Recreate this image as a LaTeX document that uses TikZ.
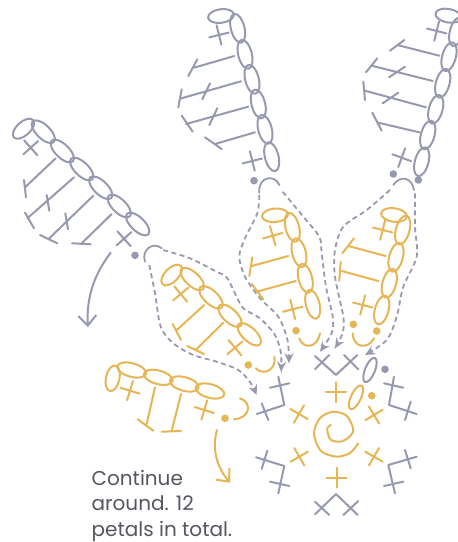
\documentclass[tikz,border=0pt]{standalone}
\usepackage{fontspec}
\setmainfont{Poppins}
\usepackage{xcolor}
\usetikzlibrary{arrows.meta}
\definecolor{inkgrey}{HTML}{9799AE}
\definecolor{inkgold}{HTML}{E6B555}
\definecolor{notegrey}{HTML}{55565F}
\tikzset{
  stitch/.style={line width=2pt, line cap=round, line join=round},
  runline/.style={line width=1.8pt, dash pattern=on 5pt off 3.5pt, -{Stealth[length=10pt,width=9pt]}},
  hookline/.style={line width=1.8pt, line cap=round},
  turnline/.style={stitch, -{Straight Barb[length=10pt,width=18pt]}},
  notetext/.style={text=notegrey, font=\fontsize{20}{25.5}\selectfont, align=left, inner sep=0pt}
}
% one chain link, the turning link, a plus stitch and a dot
\newcommand{\linkst}[3]{\draw[stitch, shift={(#1,#2)}, rotate=#3] (0,0) ellipse [x radius=14.8pt, y radius=6.8pt];}
\newcommand{\turnst}[3]{\draw[stitch, shift={(#1,#2)}, rotate=#3] (0,0) ellipse [x radius=13pt, y radius=6.8pt];}
\newcommand{\ovalst}[3]{\draw[stitch, shift={(#1,#2)}, rotate=#3] (0,0) ellipse [x radius=13pt, y radius=5pt];}
\newcommand{\plusst}[3]{\draw[stitch, shift={(#1,#2)}, rotate=#3] (-10,0) -- (10,0) (0,-10) -- (0,10);}
\newcommand{\dotst}[2]{\fill (#1,#2) circle [radius=3.8pt];}

\begin{document}
\begin{tikzpicture}[x=1pt, y=-1pt]
\useasboundingbox (0,0) rectangle (458,542);

% grey petal, left
\begin{scope}[color=inkgrey]
\turnst{23.5}{128.7}{42}
\linkst{43.3}{131.7}{-44}
\linkst{62.3}{151}{-44}
\linkst{81.7}{169}{-44}
\linkst{100.7}{187.7}{-44}
\linkst{119.3}{206}{-44}
\linkst{137.7}{224}{-44}
\plusst{30.7}{147.7}{42}
\draw[stitch] (55.7,158.3) -- (25,187.3) (24,180) -- (26,197.3);
\draw[stitch] (74,177.3) -- (27.3,218.3) (25,212.7) -- (34,228.3) (46.7,195) -- (49.3,210.7);
\draw[stitch] (93.3,195.7) -- (49.3,238.3) (40,235) -- (57.3,243.3) (65.3,213.3) -- (68,229.3);
\draw[stitch] (111.7,214) -- (81.7,243.3) (72,243.3) -- (90.7,244.3);
\plusst{124}{238.7}{42}
\dotst{135}{255.3}
\draw[turnline] (110.7,252.7) .. controls (96,272) and (86,295) .. (88,327);

% grey petal, middle
\turnst{221}{16}{8}
\linkst{237.7}{28.3}{-76}
\linkst{245}{54.3}{-76}
\linkst{252}{79.3}{-76}
\linkst{258.3}{104}{-76}
\linkst{265}{129.3}{-76}
\linkst{271.7}{156.7}{-76}
\plusst{219}{35}{14}
\draw[stitch] (234.3,56) -- (194,67.7) (188.3,76) -- (197.3,59.3);
\draw[stitch] (241,81.3) -- (180,98.7) (178.3,107.3) -- (181.7,89.3) (202.3,99.3) -- (210,83.3);
\draw[stitch] (248.3,106.7) -- (186,124) (181.7,115.7) -- (192.7,131.7) (209.3,125) -- (217.3,108.3);
\draw[stitch] (255,132.3) -- (215,144) (205,137.3) -- (221.7,149);
\plusst{252.3}{161}{14}
\dotst{254}{180.7}

% grey petal, right
\turnst{448.3}{15.7}{-10}
\linkst{456.7}{31.7}{75}
\linkst{449}{56.7}{75}
\linkst{442.7}{83.3}{75}
\linkst{435.7}{109.3}{75}
\linkst{427.7}{135}{75}
\linkst{421.7}{161.7}{75}
\plusst{436.7}{31}{-14}
\draw[stitch] (439.3,55.7) -- (397.3,45) (390,50.7) -- (404.3,40);
\draw[stitch] (432.7,81) -- (371.7,65.7) (366,72.3) -- (377.3,58.3) (389,77.3) -- (405,66.7);
\draw[stitch] (426,107.3) -- (365,90.7) (365,100) -- (363.3,81.7) (382.7,103.3) -- (398.3,92.7);
\draw[stitch] (419.3,132.3) -- (378.3,122.7) (372.3,112.7) -- (381.7,130.7);
\plusst{401.7}{157.7}{-20}
\dotst{393.3}{174}
\dotst{418.3}{180}

% dashed runs with their hooks
\draw[hookline] (145,261.7) .. controls (141,250) and (153,241) .. (161.7,248.3);
\draw[runline] plot [smooth] coordinates {(163.3,250) (190,258.3) (216.7,271.7) (226.7,277.3) (235,293.3) (243.3,308.3) (260,318.3) (275,335) (281,353.3) (281,371.7)};
\draw[runline] plot [smooth] coordinates {(149.3,265) (155,293.3) (160.7,326.7) (173.3,343.3) (193.3,355) (216.7,361.7) (238.3,370) (250,382) (256.7,395)};
\draw[hookline] (259.3,192.7) .. controls (258,176) and (275,174) .. (279.3,185);
\draw[runline] plot [smooth] coordinates {(259.3,195) (257.3,213.3) (245,238.3) (239.3,256.7) (245,276.7) (260,298.3) (278.3,316.7) (287.5,340) (289,363.3)};
\draw[runline] plot [smooth] coordinates {(282.7,191.7) (303.3,216.7) (319.3,236.7) (321.7,253.3) (326,286.7) (332.7,316.7) (331.7,333) (320,351.7)};
\draw[hookline] (393.3,185) .. controls (400,175) and (412,177) .. (414,190);
\draw[runline] plot [smooth] coordinates {(390,190) (366.7,210) (343.3,226.7) (335,250) (335,276.7) (343.3,316.7) (342.5,333.3) (335,348.3)};
\draw[runline] plot [smooth] coordinates {(415,193.3) (415,226.7) (416.7,256.7) (403.3,286.7) (396.7,316.7) (386.7,340) (365,355)};

% grey round of paired stitches
\draw[stitch] (315,356) -- (336,375) -- (357.3,355) (315,369.3) -- (329.3,355) (344,355) -- (358.3,369.3);
\draw[stitch] (278.3,376.7) -- (284.3,405) -- (256.7,414) (270,387.7) -- (289.3,383.3) (261.7,403.3) -- (268.3,420);
\draw[stitch] (394,376.7) -- (389,405) -- (416.7,414) (384,383.3) -- (403.3,387.7) (405,420) -- (410.7,401.7);
\draw[stitch] (256,457.3) -- (284.3,466) -- (278.3,493.3) (267.3,450.7) -- (261.7,469) (270,481.7) -- (289.3,486);
\draw[stitch] (416.7,456.7) -- (388.3,465) -- (395,493.3) (405,450) -- (410.7,468.3) (384,486) -- (403.3,481.7);
\draw[stitch] (315,514.3) -- (336,494) -- (357.7,515) (315,501.7) -- (329.3,515) (343.3,515) -- (358.3,501);
\ovalst{370}{370}{68}
\dotst{385}{369.3}
\end{scope}

% gold petals and centre
\begin{scope}[color=inkgold]
\turnst{275}{215.3}{5}
\linkst{292.3}{227.3}{-76}
\linkst{299}{252.7}{-76}
\linkst{305.3}{278.3}{-76}
\linkst{312.7}{304.3}{-76}
\plusst{272.7}{235.7}{16}
\draw[stitch] (288.3,256) -- (251.7,266) (249.3,276) -- (252.3,257.3);
\draw[stitch] (295.7,281) -- (256.7,291.7) (251.7,284) -- (263.3,299.3);
\plusst{292.7}{309.3}{14}
\dotst{296}{330.7}
\draw[stitch] (299.3,338.3) .. controls (303,349) and (317,349) .. (320,333.3);

\turnst{394}{215}{-8}
\linkst{402.7}{230}{75}
\linkst{396}{257.3}{75}
\linkst{389.3}{283.3}{75}
\linkst{381.7}{310}{75}
\plusst{382.7}{230}{-14}
\draw[stitch] (385.7,256) -- (348.3,246) (342.3,253.3) -- (354,238.3);
\draw[stitch] (378.3,281) -- (341.7,271) (339.3,280.7) -- (340.7,261.7);
\plusst{362.7}{305}{-14}
\dotst{353.3}{324.3}
\dotst{376.7}{331}
\draw[stitch] (352.7,333.3) .. controls (353,348) and (368,350) .. (374,338.3);

\turnst{171.7}{275}{45}
\linkst{192.3}{279}{-43}
\linkst{211}{297.3}{-43}
\linkst{230}{315.7}{-43}
\linkst{249.3}{334.3}{-43}
\plusst{180.7}{294}{40}
\draw[stitch] (204.3,305) -- (176,330.7) (172.7,324) -- (181,340);
\draw[stitch] (223.3,322.7) -- (195.7,350) (187.3,346) -- (204,354);
\plusst{235}{347.7}{40}
\dotst{248.3}{365}
\draw[stitch] (255.7,368.3) .. controls (265,377) and (277,368) .. (274.3,356.7);

\turnst{112.7}{378.3}{78}
\linkst{131.7}{370}{-15}
\linkst{158.3}{377.3}{-15}
\linkst{184.3}{384}{-15}
\linkst{210}{391}{-15}
\plusst{130}{390.7}{-17}
\draw[stitch] (155,387.3) -- (146.7,424) (137.7,419.3) -- (153.3,430.7);
\draw[stitch] (181,394) -- (171.7,430.7) (161.7,431.7) -- (181,431);
\plusst{204.3}{410}{-17}
\dotst{225}{418.3}
\draw[stitch] (240,398.3) .. controls (252,402) and (251,418) .. (234,419.3);
\draw[turnline] (217,430) .. controls (212,448) and (216,466) .. (230,482.7);

\plusst{336}{392.3}{0}
\plusst{336.7}{477.7}{0}
\ovalst{356}{397.3}{65}
\dotst{371.7}{395.7}
\plusst{374}{415}{31}
\plusst{299}{414}{-30}
\plusst{299.3}{456.7}{30}
\plusst{374}{456.7}{-30}
\draw[stitch] plot [smooth] coordinates {(358.3,443.3) (350,453) (336.7,456.7) (321,451) (314,433.3) (320,418) (333.3,411.7) (347,416) (353.3,430) (348,438) (340,441.7) (331,440) (328,434) (327.3,428) (330.7,425)};
\end{scope}

\node[notetext, anchor=base west] (note) at (91.5,536) {Continue\\around. 12\\petals in total.};
\end{tikzpicture}
\end{document}
